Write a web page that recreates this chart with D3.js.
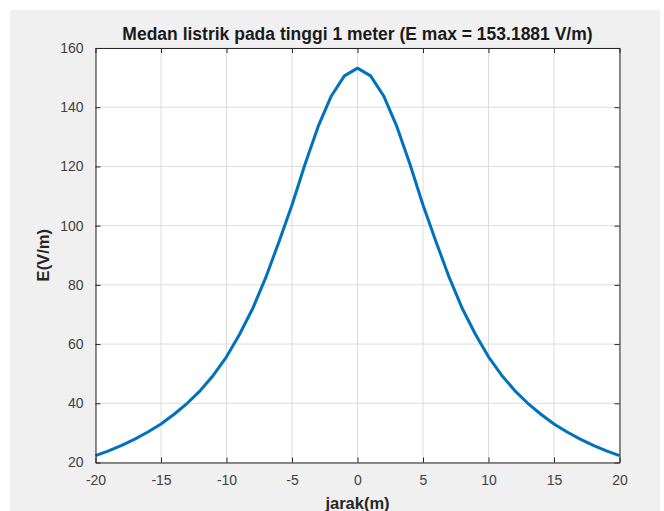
<!DOCTYPE html>
<html>
<head>
<meta charset="utf-8">
<script src="https://cdn.jsdelivr.net/npm/d3@7"></script>
<style>
  html, body { margin: 0; padding: 0; background: #ffffff; }
  svg { display: block; }
</style>
</head>
<body>
<svg id="chart" width="664" height="511"></svg>
<script>
// ---- data ----
const jarak = [-20,-19,-18,-17,-16,-15,-14,-13,-12,-11,-10,-9,-8,-7,-6,-5,-4,-3,-2,-1,0,
               1,2,3,4,5,6,7,8,9,10,11,12,13,14,15,16,17,18,19,20];
const medanE = [22.3,23.9,25.8,27.9,30.3,33.0,36.3,40.0,44.3,49.5,55.7,63.3,72.0,82.5,94.5,107.0,120.8,133.5,143.8,150.6,153.1881,
                150.6,143.8,133.5,120.8,107.0,94.5,82.5,72.0,63.3,55.7,49.5,44.3,40.0,36.3,33.0,30.3,27.9,25.8,23.9,22.3];
const xTicks = [-20,-15,-10,-5,0,5,10,15,20];
const yTicks = [20,40,60,80,100,120,140,160];
const titleText = "Medan listrik pada tinggi 1 meter (E max = 153.1881 V/m)";
const xLabel = "jarak(m)";
const yLabel = "E(V/m)";

// ---- layout ----
const svg = d3.select("#chart");
const font = "'Liberation Sans', Arial, Helvetica, sans-serif";
const pL = 95.5, pR = 619.5, pT = 48, pB = 462.5;

svg.append("rect").attr("x", 10).attr("y", 10).attr("width", 650).attr("height", 501).attr("fill", "#f0f0f0");

const x = d3.scaleLinear().domain([-20, 20]).range([pL, pR]);
const y = d3.scaleLinear().domain([20, 160]).range([pB, pT]);

svg.append("rect").attr("x", pL).attr("y", pT).attr("width", pR - pL).attr("height", pB - pT).attr("fill", "#ffffff");

// grid
const grid = svg.append("g");
grid.selectAll(".gx").data(xTicks).join("line")
  .attr("x1", d => x(d)).attr("x2", d => x(d)).attr("y1", pT).attr("y2", pB)
  .attr("stroke", "#dcdcdc").attr("stroke-width", 1);
grid.selectAll(".gy").data(yTicks).join("line")
  .attr("y1", d => y(d)).attr("y2", d => y(d)).attr("x1", pL).attr("x2", pR)
  .attr("stroke", "#dcdcdc").attr("stroke-width", 1);

// line
const line = d3.line().x((d, i) => x(jarak[i])).y(d => y(d));
svg.append("path").datum(medanE)
  .attr("d", line).attr("fill", "none")
  .attr("stroke", "#0072BD").attr("stroke-width", 3).attr("stroke-linejoin", "round");

// axes
const tickLen = -5;
const fmt = d => String(d);
const axB = svg.append("g").attr("transform", `translate(0,${pB})`)
  .call(d3.axisBottom(x).tickValues(xTicks).tickSizeInner(tickLen).tickSizeOuter(0).tickPadding(17).tickFormat(fmt));
const axT = svg.append("g").attr("transform", `translate(0,${pT})`)
  .call(d3.axisTop(x).tickValues(xTicks).tickSizeInner(tickLen).tickSizeOuter(0).tickFormat(""));
const axL = svg.append("g").attr("transform", `translate(${pL},0)`)
  .call(d3.axisLeft(y).tickValues(yTicks).tickSizeInner(tickLen).tickSizeOuter(0).tickPadding(12).tickFormat(fmt));
const axR = svg.append("g").attr("transform", `translate(${pR},0)`)
  .call(d3.axisRight(y).tickValues(yTicks).tickSizeInner(tickLen).tickSizeOuter(0).tickFormat(""));

[axB, axT, axL, axR].forEach(a => {
  a.select(".domain").attr("stroke", "#262626").attr("stroke-width", 1);
  a.selectAll(".tick line").attr("stroke", "#262626");
  a.selectAll("text").attr("font-family", font).attr("font-size", 14).attr("fill", "#404040");
});
axB.selectAll("text").attr("dy", "0.4em");

// title & labels
svg.append("text").attr("x", (pL + pR) / 2).attr("y", 40)
  .attr("text-anchor", "middle").attr("font-family", font).attr("font-weight", "bold")
  .attr("font-size", 17.5).attr("fill", "#1a1a1a").text(titleText);
svg.append("text").attr("x", (pL + pR) / 2).attr("y", 509)
  .attr("text-anchor", "middle").attr("font-family", font).attr("font-weight", "bold")
  .attr("font-size", 16.5).attr("fill", "#262626").text(xLabel);
svg.append("text").attr("transform", `translate(49,${(pT + pB) / 2}) rotate(-90)`)
  .attr("text-anchor", "middle").attr("font-family", font).attr("font-weight", "bold")
  .attr("font-size", 16.5).attr("fill", "#262626").text(yLabel);
</script>
</body>
</html>
